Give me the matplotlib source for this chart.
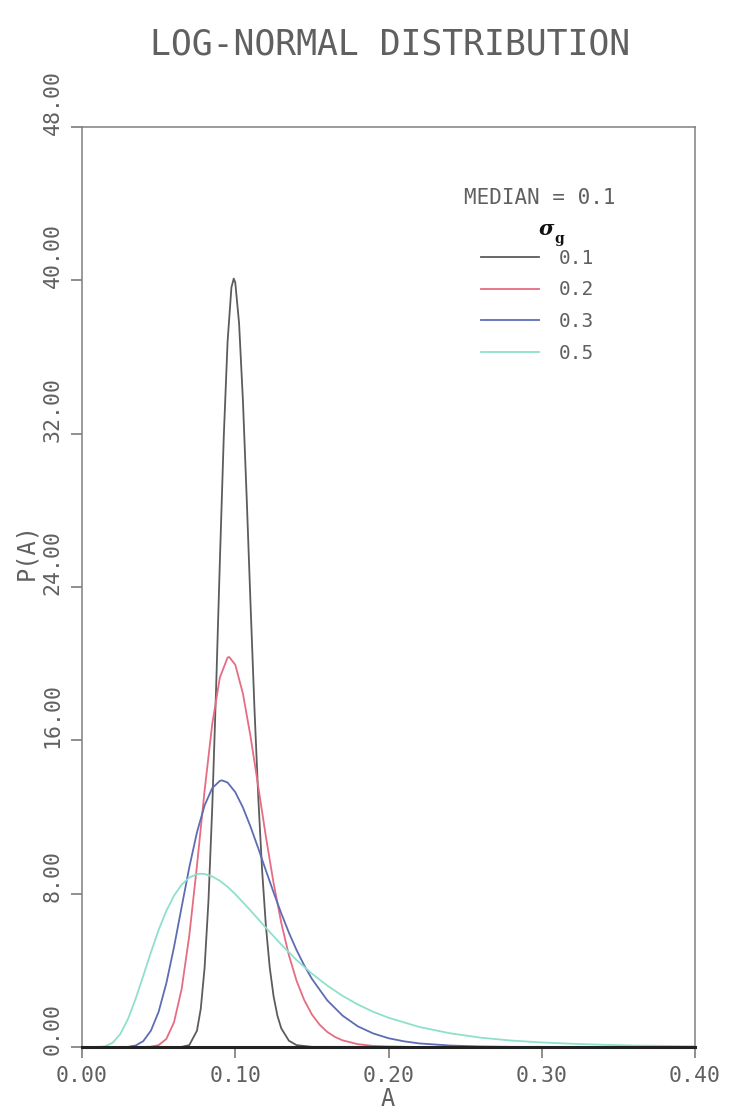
import matplotlib
matplotlib.use('Agg')
import matplotlib.pyplot as plt
import matplotlib.transforms as mtransforms
from matplotlib.ticker import FormatStrFormatter

# log-normal curves, median 0.1, one per geometric sigma
median = 0.1
sigmas = ['0.1', '0.2', '0.3', '0.5']

a_01 = [0, 0.06, 0.065, 0.07, 0.075, 0.0775, 0.08, 0.0825, 0.085, 0.0875, 0.09, 0.0925, 0.095,
        0.0975, 0.099, 0.1, 0.1025, 0.105, 0.1075, 0.11, 0.1125, 0.115, 0.1175, 0.12, 0.1225,
        0.125, 0.1275, 0.13, 0.135, 0.14, 0.15, 0.40]
p_01 = [0, 0, 0.01, 0.10, 0.85, 2.00, 4.14, 7.60, 12.53, 18.69, 25.45, 31.83, 36.82,
        39.63, 40.09, 39.89, 37.75, 33.73, 28.57, 23.03, 17.72, 13.06, 9.25, 6.31, 4.15,
        2.65, 1.64, 0.98, 0.33, 0.10, 0.01, 0]

a_02 = [0, 0.03, 0.04, 0.045, 0.05, 0.055, 0.06, 0.065, 0.07, 0.075, 0.08, 0.085, 0.09, 0.095,
        0.096, 0.1, 0.105, 0.11, 0.115, 0.12, 0.125, 0.13, 0.135, 0.14, 0.145, 0.15, 0.155,
        0.16, 0.165, 0.17, 0.18, 0.19, 0.20, 0.22, 0.40]
p_02 = [0, 0, 0.00, 0.02, 0.10, 0.42, 1.28, 3.02, 5.81, 9.45, 13.38, 16.87, 19.29, 20.32,
        20.35, 19.95, 18.44, 16.19, 13.59, 10.97, 8.56, 6.49, 4.79, 3.46, 2.45, 1.70, 1.17,
        0.79, 0.53, 0.35, 0.15, 0.06, 0.03, 0.00, 0]

a_03 = [0, 0.02, 0.025, 0.03, 0.035, 0.04, 0.045, 0.05, 0.055, 0.06, 0.065, 0.07, 0.075, 0.08,
        0.085, 0.09, 0.0914, 0.095, 0.1, 0.105, 0.11, 0.115, 0.12, 0.125, 0.13, 0.135, 0.14,
        0.145, 0.15, 0.16, 0.17, 0.18, 0.19, 0.20, 0.21, 0.22, 0.24, 0.26, 0.28, 0.30, 0.40]
p_03 = [0, 0, 0.00, 0.01, 0.08, 0.31, 0.86, 1.84, 3.32, 5.20, 7.30, 9.37, 11.20, 12.61,
        13.51, 13.89, 13.91, 13.80, 13.30, 12.50, 11.49, 10.37, 9.21, 8.07, 6.98, 5.97, 5.06,
        4.26, 3.56, 2.44, 1.64, 1.08, 0.71, 0.46, 0.30, 0.19, 0.08, 0.03, 0.01, 0.01, 0]

a_05 = [0, 0.01, 0.015, 0.02, 0.025, 0.03, 0.035, 0.04, 0.045, 0.05, 0.055, 0.06, 0.065, 0.07,
        0.075, 0.0779, 0.08, 0.085, 0.09, 0.095, 0.1, 0.11, 0.12, 0.13, 0.14, 0.15, 0.16,
        0.17, 0.18, 0.19, 0.20, 0.22, 0.24, 0.26, 0.28, 0.30, 0.32, 0.34, 0.36, 0.38, 0.40]
p_05 = [0, 0.00, 0.04, 0.22, 0.68, 1.46, 2.52, 3.72, 4.95, 6.11, 7.10, 7.89, 8.47, 8.84,
        9.02, 9.04, 9.03, 8.90, 8.67, 8.36, 7.98, 7.12, 6.22, 5.35, 4.54, 3.83, 3.21,
        2.67, 2.22, 1.84, 1.53, 1.05, 0.72, 0.49, 0.34, 0.24, 0.17, 0.12, 0.08, 0.06, 0.04]

x_ticks = [0.00, 0.10, 0.20, 0.30, 0.40]
y_ticks = [0, 8, 16, 24, 32, 40, 48]

colors = ['#5c5c5c', '#e66c82', '#5e6cb4', '#8ee0cc']
ink = '#606060'
mono = 'DejaVu Sans Mono'

fig = plt.figure(figsize=(7.53, 11.14), dpi=100)
ax = fig.add_axes([0.1089, 0.0601, 0.8141, 0.8259])

series = [(a_01, p_01), (a_02, p_02), (a_03, p_03), (a_05, p_05)]
lines = []
for (a, p), c, s in zip(series, colors, sigmas):
    ln, = ax.plot(a, p, color=c, lw=1.3, label=s, solid_joinstyle='round')
    lines.append(ln)

ax.set_xlim(0, 0.40)
ax.set_ylim(0, 48)
ax.set_xticks(x_ticks)
ax.set_yticks(y_ticks)
ax.xaxis.set_major_formatter(FormatStrFormatter('%.2f'))
ax.yaxis.set_major_formatter(FormatStrFormatter('%.2f'))

for side in ['left', 'right', 'top']:
    ax.spines[side].set_color('#808080')
    ax.spines[side].set_linewidth(1.1)
ax.spines['bottom'].set_color('#222222')
ax.spines['bottom'].set_linewidth(2.2)

ax.tick_params(axis='both', direction='out', length=8, width=1.1, color='#707070',
               labelcolor=ink, labelsize=15.5)
ax.tick_params(axis='x', pad=6)
ax.tick_params(axis='y', pad=6, labelrotation=90)
for lab in ax.get_xticklabels() + ax.get_yticklabels():
    lab.set_fontfamily(mono)

# y labels run upward from just below their tick
shift = mtransforms.ScaledTranslation(0, -8 / 100, fig.dpi_scale_trans)
for lab in ax.get_yticklabels():
    lab.set_verticalalignment('bottom')
    lab.set_transform(lab.get_transform() + shift)

fig.text(0.518, 0.96, 'LOG-NORMAL DISTRIBUTION', ha='center', va='center',
         fontsize=25, color=ink, family=mono)
fig.text(0.515, 0.0135, 'A', ha='center', va='center', fontsize=17, color=ink, family=mono)
fig.text(0.035, 0.505, 'P(A)', ha='center', va='center', rotation=90, fontsize=17,
         color=ink, family=mono)

ax.text(0.623, 0.923, 'MEDIAN = %.1f' % median, transform=ax.transAxes, ha='left',
        va='center', fontsize=15, color=ink, family=mono)
ax.text(0.745, 0.889, 'σ', transform=ax.transAxes, ha='left', va='center', fontsize=15,
        color='#111111', family='DejaVu Serif', fontweight='bold', fontstyle='italic')
ax.text(0.771, 0.878, 'g', transform=ax.transAxes, ha='left', va='center', fontsize=10,
        color='#111111', family='DejaVu Serif', fontweight='bold')

leg = ax.legend(handles=lines, loc='upper left', bbox_to_anchor=(0.638, 0.876),
                frameon=False, handlelength=3.0, handletextpad=1.0, labelspacing=0.65,
                borderaxespad=0, prop={'family': mono, 'size': 14})
for t in leg.get_texts():
    t.set_color(ink)

plt.savefig('out.png', dpi=100)
